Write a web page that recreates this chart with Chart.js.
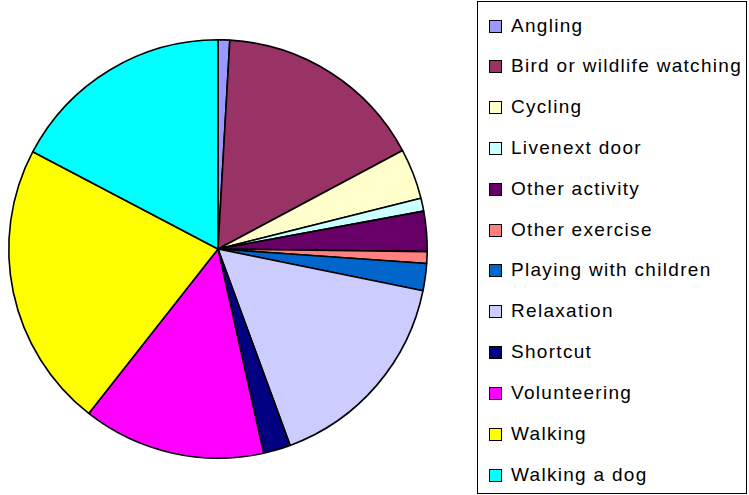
<!DOCTYPE html>
<html>
<head>
<meta charset="utf-8">
<script src="https://cdn.jsdelivr.net/npm/chart.js@4"></script>
<style>
  html, body { margin: 0; padding: 0; background: #fff; }
  #wrap { position: relative; width: 749px; height: 495px; overflow: hidden; }
  #chart { position: absolute; left: 0; top: 0; }
  #legend {
    position: absolute; left: 477px; top: 1px; width: 268px; height: 491px;
    border: 1px solid #000; box-sizing: content-box; background: #fff;
    font-family: "Liberation Sans", Arial, sans-serif; font-size: 19px;
    letter-spacing: 1.3px; color: #000;
  }
  .row { position: absolute; left: 0; height: 22px; line-height: 22px; white-space: nowrap; }
  .sw { position: absolute; left: 11px; top: 5px; width: 11px; height: 11px; border: 1.5px solid #000; }
  .tx { position: absolute; left: 33px; top: 0; }
</style>
</head>
<body>
<div id="wrap">
  <canvas id="chart" width="749" height="495"></canvas>
  <div id="legend"></div>
</div>
<script>
const categories = ["Angling", "Bird or wildlife watching", "Cycling", "Livenext door", "Other activity",
  "Other exercise", "Playing with children", "Relaxation", "Shortcut", "Volunteering", "Walking", "Walking a dog"];
const shares = [0.9, 16.3, 3.9, 1.0, 3.1, 0.9, 2.1, 16.2, 2.1, 14.1, 22.1, 17.3];
const colors = ["#9999FF", "#993366", "#FFFFCC", "#CCFFFF", "#660066", "#FF8080",
  "#0066CC", "#CCCCFF", "#000080", "#FF00FF", "#FFFF00", "#00FFFF"];

const chart = new Chart(document.getElementById('chart'), {
  type: 'pie',
  data: {
    labels: categories,
    datasets: [{ data: shares, backgroundColor: colors, borderColor: '#000', borderWidth: 1.6 }]
  },
  options: {
    responsive: false,
    animation: false,
    layout: { padding: { left: 8, top: 39, right: 321, bottom: 36 } },
    plugins: { legend: { display: false }, tooltip: { enabled: false } }
  }
});

const legend = document.getElementById('legend');
categories.forEach((c, i) => {
  const row = document.createElement('div');
  row.className = 'row';
  row.style.top = (12.5 + i * 40.83) + 'px';
  const sw = document.createElement('div');
  sw.className = 'sw';
  sw.style.background = colors[i];
  const tx = document.createElement('div');
  tx.className = 'tx';
  tx.textContent = c;
  row.appendChild(sw); row.appendChild(tx);
  legend.appendChild(row);
});
</script>
</body>
</html>
